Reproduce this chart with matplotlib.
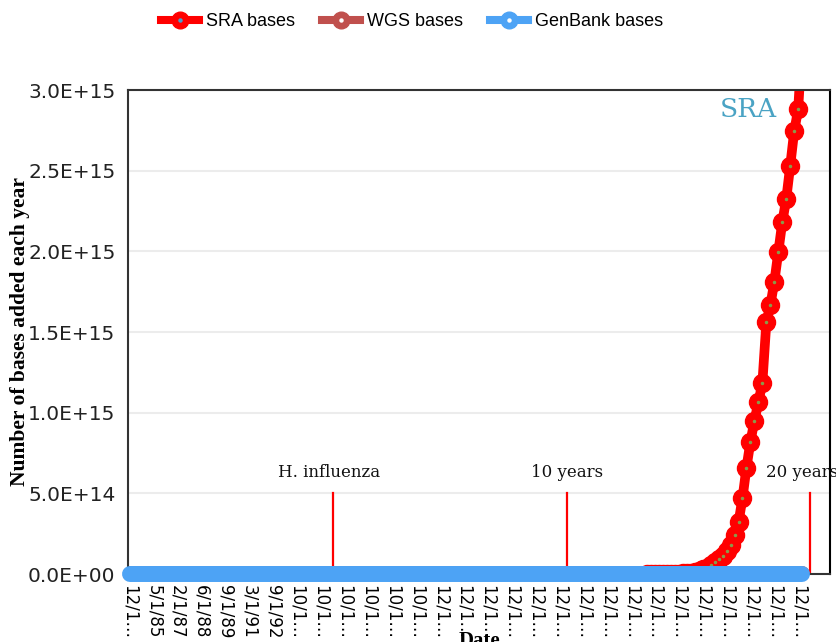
import matplotlib
matplotlib.use('Agg')
import matplotlib.pyplot as plt
from matplotlib.lines import Line2D
import numpy as np

# tick labels on the category axis (one label every 6 releases)
date_labels = (['12/1\u2026', '5/1/85', '2/1/87', '6/1/88', '9/1/89', '3/1/91', '9/1/92']
               + ['10/1\u2026'] * 6 + ['12/1\u2026'] * 16)
label_step = 6
n_points = 170

# bases added per year (x 1e15)
# GenBank and WGS are flat on this scale
genbank = np.zeros(n_points)
wgs = np.zeros(n_points)
sra_start = 130
sra_vals = [0.0005, 0.0008, 0.001, 0.0012, 0.0015, 0.0018, 0.002, 0.0025,
            0.003, 0.004, 0.006, 0.009, 0.013, 0.018, 0.028, 0.040,
            0.055, 0.075, 0.090, 0.110, 0.140, 0.180, 0.240, 0.320,
            0.470, 0.660, 0.820, 0.950, 1.065, 1.185, 1.560, 1.665,
            1.810, 1.995, 2.180, 2.325, 2.530, 2.745, 2.880, 3.300]
sra = np.full(n_points, np.nan)
sra[sra_start:sra_start + len(sra_vals)] = sra_vals

# milestones
mark_x = [51, 110, 171]
mark_text = ['H. influenza', '10 years', '20 years']
mark_text_x = [50, 110, 169]

ytick_vals = [0, 0.5, 1.0, 1.5, 2.0, 2.5, 3.0]
ytick_labels = ['0.0E+00', '5.0E+14', '1.0E+15', '1.5E+15', '2.0E+15', '2.5E+15', '3.0E+15']

red = '#ff0000'
wgs_col = '#c0504d'
blue = '#4da3f5'

fig = plt.figure(figsize=(8.37, 6.42), dpi=100)
ax = fig.add_axes([128/837, 68/642, 702/837, 484/642])

x = np.arange(n_points)
scale = 1e15

for m in mark_x:
    ax.plot([m, m], [0, 0.5*scale], color=red, lw=1.6, zorder=1)
for tx, t in zip(mark_text_x, mark_text):
    ax.text(tx, 0.63*scale, t, ha='center', va='center', fontsize=12,
            family='DejaVu Serif', color='#111111', zorder=5)

ax.plot(x, sra*scale, color=red, lw=7, marker='o', ms=13, mec=red, mfc=red, zorder=2)
ax.plot(x, sra*scale, ls='none', marker='o', ms=1.5, color='#8a9a4a', zorder=2.1)
ax.plot(x, wgs*scale, color=wgs_col, lw=11.5, zorder=2.5, solid_capstyle='round')
ax.plot(x, genbank*scale, color=blue, lw=11.5, zorder=3, solid_capstyle='round',
        clip_on=False)

ax.text(155.5, 2.88*scale, 'SRA', ha='center', va='center', fontsize=19,
        family='DejaVu Serif', color='#4aa3c4', zorder=5)

ax.set_xlim(-0.5, 176)
ax.set_ylim(0, 3.0*scale)
ax.set_yticks([v*scale for v in ytick_vals])
ax.set_yticklabels(ytick_labels, fontsize=14.5, family='DejaVu Sans', color='#222222')
ax.set_xticks(np.arange(len(date_labels))*label_step)
ax.set_xticklabels(date_labels, rotation=-90, fontsize=12, family='DejaVu Sans',
                   va='top', ha='center')
ax.tick_params(axis='both', length=0)
ax.tick_params(axis='y', pad=9)
ax.tick_params(axis='x', pad=8)
ax.grid(axis='y', color='#ececec', lw=1.5)
ax.set_axisbelow(True)
for s in ax.spines.values():
    s.set_linewidth(1.5)
    s.set_color('#333333')
ax.spines['right'].set_color('#000000')

fig.text(20/837, 1 - 331/642, 'Number of bases added each year', rotation=90,
         ha='center', va='center', fontsize=15.5, fontweight='bold',
         family='Liberation Serif')
fig.text(479/837, 1 - 631/642, 'Date', ha='center', va='top', fontsize=15,
         fontweight='bold', family='Liberation Serif')

# legend
handles = []
for col, dot in [(red, '#4aa0d0'), (wgs_col, 'white'), (blue, 'white')]:
    ln = Line2D([], [], color=col, lw=5.8, marker='o', ms=12, mfc=col, mec=col)
    dt = Line2D([], [], ls='none', marker='o', ms=2.2, color=dot)
    handles.append((ln, dt))
fig.legend(handles, ['SRA bases', 'WGS bases', 'GenBank bases'], ncol=3,
           loc='center', bbox_to_anchor=(412/837, 1 - 22/642), frameon=False,
           prop={'family': 'Liberation Sans', 'size': 13}, handlelength=2.1,
           handletextpad=0.4, columnspacing=1.5)

plt.savefig('out.png', dpi=100)
